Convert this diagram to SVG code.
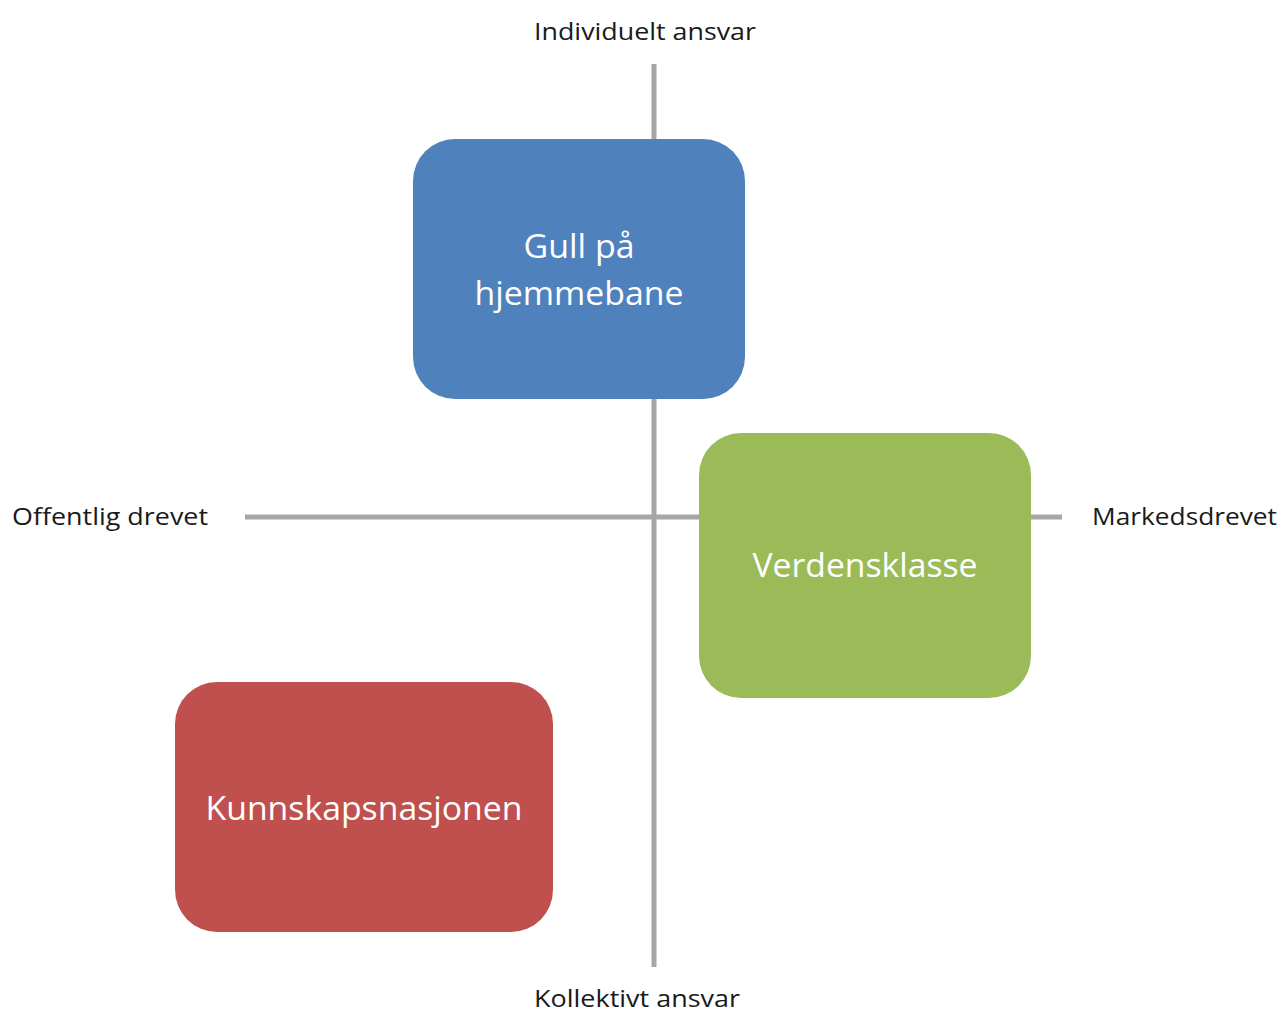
<svg xmlns="http://www.w3.org/2000/svg" width="1282" height="1015" viewBox="0 0 1282 1015">
<style>
.axis{stroke:#a6a6a6;stroke-width:5;fill:none}
.lbl{font-family:"Open Sans","Liberation Sans",sans-serif;font-size:24px;fill:#1a1a1a}
.box{font-family:"Open Sans","Liberation Sans",sans-serif;font-size:33px;fill:#ffffff;text-anchor:middle}
</style>
<rect width="1282" height="1015" fill="#ffffff"/>
<g id="connectors">
<line class="axis" x1="654" y1="64" x2="654" y2="967"/>
<line class="axis" x1="245" y1="517" x2="1062" y2="517"/>
</g>
<g id="node-gull">
<rect x="413" y="139" width="332" height="260" rx="42" fill="#4f81bd"/>
<text class="box" x="579" y="258" textLength="111" lengthAdjust="spacingAndGlyphs">Gull på</text>
<text class="box" x="579" y="305" textLength="209" lengthAdjust="spacingAndGlyphs">hjemmebane</text>
</g>
<g id="node-verdensklasse">
<rect x="699" y="433" width="332" height="265" rx="42" fill="#9bbb59"/>
<text class="box" x="865" y="577" textLength="225" lengthAdjust="spacingAndGlyphs">Verdensklasse</text>
</g>
<g id="node-kunnskapsnasjonen">
<rect x="175" y="682" width="378" height="250" rx="42" fill="#c0504d"/>
<text class="box" x="364" y="820" textLength="317" lengthAdjust="spacingAndGlyphs">Kunnskapsnasjonen</text>
</g>
<g id="labels">
<text class="lbl" x="534" y="40" textLength="222" lengthAdjust="spacingAndGlyphs">Individuelt ansvar</text>
<text class="lbl" x="534" y="1007" textLength="206" lengthAdjust="spacingAndGlyphs">Kollektivt ansvar</text>
<text class="lbl" x="12" y="525" textLength="196" lengthAdjust="spacingAndGlyphs">Offentlig drevet</text>
<text class="lbl" x="1092" y="525" textLength="185" lengthAdjust="spacingAndGlyphs">Markedsdrevet</text>
</g>
</svg>
